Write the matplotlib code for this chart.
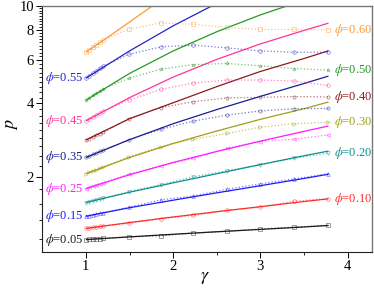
import matplotlib
matplotlib.use("Agg")
import matplotlib.pyplot as plt
import numpy as np
from matplotlib.ticker import FixedLocator, NullFormatter

plt.rcParams['font.family'] = ['Liberation Serif', 'DejaVu Serif']
plt.rcParams['mathtext.fontset'] = 'stix'

# theory curves (solid)
th_gamma = [1.0, 1.5, 2.0, 2.5, 3.0, 3.5, 3.78]
th_005 = [1.107, 1.136, 1.164, 1.192, 1.219, 1.247, 1.265]
th_010 = [1.23, 1.30, 1.37, 1.44, 1.51, 1.585, 1.626]
th_015 = [1.38, 1.495, 1.605, 1.72, 1.84, 1.97, 2.05]
th_020 = [1.57, 1.73, 1.89, 2.06, 2.245, 2.44, 2.55]
th_025 = [1.79, 2.04, 2.29, 2.54, 2.80, 3.07, 3.23]
th_030 = [2.06, 2.40, 2.74, 3.08, 3.44, 3.80, 4.05]
th_035 = [2.40, 2.84, 3.30, 3.77, 4.27, 4.82, 5.17]
th_040 = [2.83, 3.46, 4.02, 4.68, 5.40, 6.10, 6.56]
th_045 = [3.39, 4.22, 5.12, 6.05, 7.0, 7.95, 8.51]
th_gamma_050 = [1.0, 1.5, 2.0, 2.5, 3.0, 3.3, 3.5]
th_050 = [4.12, 5.3, 6.55, 7.85, 9.2, 10.0, 10.6]
th_gamma_055 = [1.0, 1.5, 2.0, 2.44, 2.6]
th_055 = [5.07, 6.55, 8.3, 10.0, 10.6]
th_gamma_060 = [1.0, 1.25, 1.5, 1.76, 1.9]
th_060 = [6.47, 7.45, 8.6, 10.0, 10.7]

# simulation points (dotted + markers)
sim_gamma = [1.0, 1.04, 1.08, 1.12, 1.16, 1.2, 1.49, 1.86, 2.23, 2.62, 2.99, 3.38, 3.78]
sim_005 = [1.107, 1.109, 1.112, 1.114, 1.116, 1.119, 1.135, 1.148, 1.178, 1.196, 1.223, 1.245, 1.265]
sim_010 = [1.23, 1.236, 1.241, 1.247, 1.253, 1.258, 1.29, 1.35, 1.39, 1.46, 1.50, 1.59, 1.63]
sim_015 = [1.38, 1.389, 1.398, 1.408, 1.417, 1.426, 1.50, 1.61, 1.67, 1.78, 1.87, 1.96, 2.06]
sim_020 = [1.57, 1.583, 1.596, 1.608, 1.621, 1.634, 1.74, 1.86, 2.00, 2.12, 2.24, 2.38, 2.50]
sim_025 = [1.79, 1.81, 1.83, 1.85, 1.87, 1.89, 2.05, 2.22, 2.38, 2.62, 2.79, 2.85, 2.97]
sim_030 = [2.06, 2.087, 2.114, 2.142, 2.169, 2.196, 2.42, 2.66, 2.85, 3.01, 3.19, 3.30, 3.34]
sim_035 = [2.40, 2.435, 2.47, 2.505, 2.54, 2.575, 2.83, 3.13, 3.38, 3.58, 3.72, 3.80, 3.81]
sim_040 = [2.83, 2.87, 2.91, 2.955, 3.0, 3.04, 3.46, 3.84, 4.06, 4.21, 4.23, 4.26, 4.25]
sim_045 = [3.39, 3.46, 3.52, 3.59, 3.66, 3.72, 4.12, 4.56, 4.84, 4.98, 4.98, 4.93, 4.73]
sim_050 = [4.12, 4.21, 4.31, 4.40, 4.50, 4.59, 5.06, 5.52, 5.76, 5.82, 5.70, 5.55, 5.47]
sim_055 = [5.07, 5.19, 5.31, 5.44, 5.56, 5.68, 6.34, 6.81, 6.92, 6.74, 6.56, 6.47, 6.47]
sim_060 = [6.47, 6.63, 6.79, 6.95, 7.10, 7.25, 8.04, 8.53, 8.42, 8.17, 8.02, 8.02, 7.98]

phi_labels = ['0.05', '0.10', '0.15', '0.20', '0.25', '0.30',
              '0.35', '0.40', '0.45', '0.50', '0.55', '0.60']
colors = ['#1a1a1a', '#ff2a2a', '#1a1aff', '#0a8f8f', '#ff1aff', '#a0a015',
          '#1c1c96', '#8c1a1a', '#ff3399', '#239a23', '#2323c8', '#ff9933']
markers = ['s', 'o', '^', 'v', '<', '>', 'h', 'p', 'o', '*', 'o', 's']

theory = [(th_gamma, th_005), (th_gamma, th_010), (th_gamma, th_015), (th_gamma, th_020),
          (th_gamma, th_025), (th_gamma, th_030), (th_gamma, th_035), (th_gamma, th_040),
          (th_gamma, th_045), (th_gamma_050, th_050), (th_gamma_055, th_055),
          (th_gamma_060, th_060)]
sims = [sim_005, sim_010, sim_015, sim_020, sim_025, sim_030,
        sim_035, sim_040, sim_045, sim_050, sim_055, sim_060]

fig = plt.figure(figsize=(3.74, 2.88), dpi=100)
ax = fig.add_axes([0.113, 0.125, 0.882, 0.854])

for i in range(len(phi_labels)):
    g, p = theory[i]
    ax.plot(g, p, color=colors[i], lw=0.9, solid_capstyle='butt')
    ax.plot(sim_gamma, sims[i], color=colors[i], lw=0.9, ls=':', alpha=0.6,
            marker=markers[i], ms=2.6, mfc='none', mew=0.5)

ax.set_yscale('log')
ax.set_xlim(0.5, 4.28)
ax.set_ylim(0.985, 10)

# labels: even index on the left, odd on the right
for i in range(len(phi_labels)):
    txt = r'$\phi$=' + phi_labels[i]
    if i % 2 == 0:
        ax.text(0.53, sims[i][0], txt, color=colors[i], fontsize=9,
                ha='left', va='center')
    else:
        ax.text(3.84, sims[i][-1], txt, color=colors[i], fontsize=9,
                ha='left', va='center')

ax.yaxis.set_major_locator(FixedLocator([2, 4, 6, 8, 10]))
ax.yaxis.set_major_formatter(matplotlib.ticker.FixedFormatter(['2', '4', '6', '8', '10']))
minor_y = [v for v in np.arange(2 / 9 * 4, 10, 2 / 9) if abs(v / 2 - round(v / 2)) > 1e-6]
ax.yaxis.set_minor_locator(FixedLocator(minor_y))
ax.yaxis.set_minor_formatter(NullFormatter())
ax.set_xticks([1, 2, 3, 4])
ax.xaxis.set_minor_locator(FixedLocator([1.5, 2.5, 3.5]))

ax.tick_params(which='major', direction='out', length=4, width=0.7, labelsize=10.5, pad=2)
ax.tick_params(which='minor', direction='out', length=2, width=0.6)
ax.tick_params(top=False, right=False)

for s in ['left', 'bottom']:
    ax.spines[s].set_color('#222222')
    ax.spines[s].set_linewidth(0.8)
for s in ['top', 'right']:
    ax.spines[s].set_color('#777777')
    ax.spines[s].set_linewidth(1.0)

fig.text(11 / 374, 1 - 124 / 288, r'$p$', fontsize=13, rotation=90,
         ha='center', va='center')
fig.text(205 / 374, 1 - 277 / 288, r'$\gamma$', fontsize=13,
         ha='center', va='center')

fig.savefig('out.png', dpi=100)
